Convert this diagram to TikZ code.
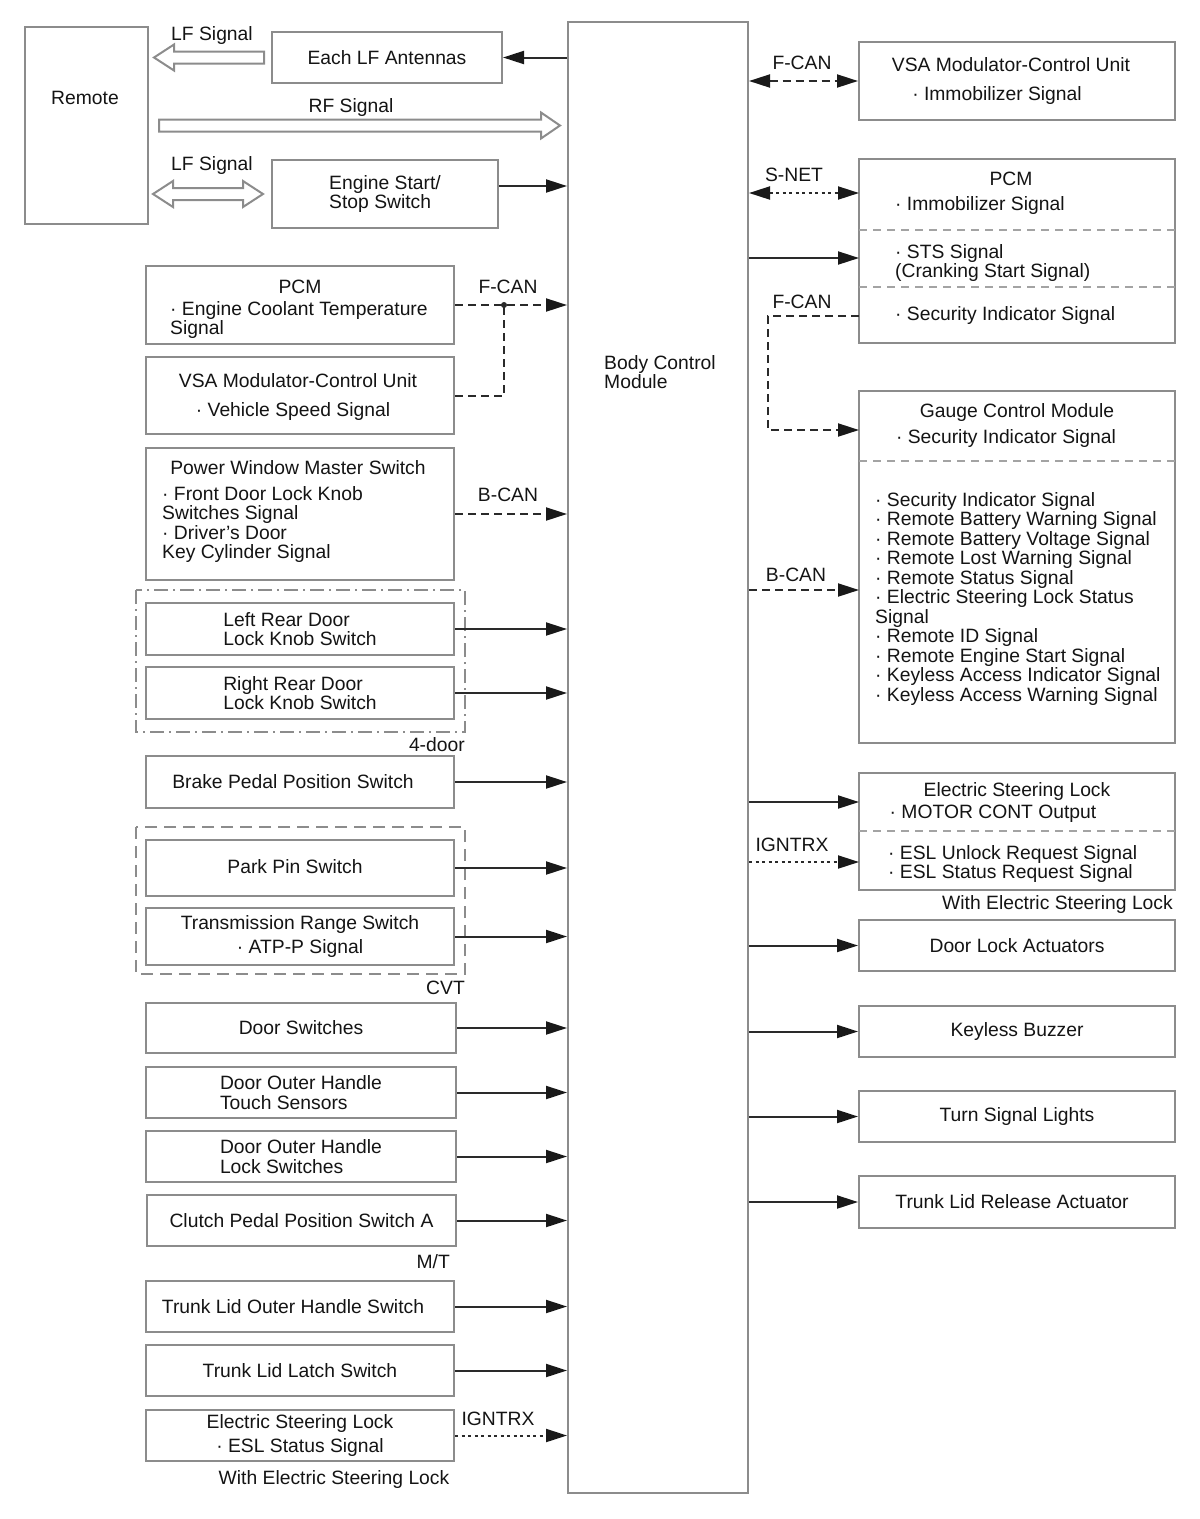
\documentclass[tikz,border=0pt]{standalone}
\usepackage{fontspec}
\setmainfont{Liberation Sans}
\usetikzlibrary{arrows.meta}

\definecolor{cadre}{HTML}{8C8C8C}
\definecolor{trait}{HTML}{2A2A2A}
\definecolor{texte}{HTML}{141414}
\newcommand{\police}{\fontsize{19.3}{19.5}\selectfont}

\tikzset{
  boite/.style={draw=cadre, line width=2pt, fill=white, inner sep=0pt, font=\police, text=texte, align=center},
  gauche/.style={boite, minimum width=308},
  droite/.style={boite, minimum width=316},
  txt/.style={inner sep=0pt, font=\police, text=texte, text height=14pt, text depth=0pt},
  bloc/.style={inner sep=0pt, font=\police, text=texte, align=left, anchor=north west},
  fleche/.style={draw=trait, line width=2pt, ->},
  can/.style={fleche, dash pattern=on 8pt off 5pt},
  ign/.style={fleche, dash pattern=on 3pt off 3.5pt},
  sep/.style={draw=cadre!80, line width=2pt, dash pattern=on 8pt off 6pt},
  creux/.style={draw=cadre, line width=2pt, fill=white, line join=miter}
}

\begin{document}
\begin{tikzpicture}[x=1pt, y=-1pt, >={Triangle[length=21pt,width=13pt,color=black!90]}]
% on fixe la taille de la page
\useasboundingbox (0,0) rectangle (1200,1519);

% télécommande, antennes et bouton de démarrage
\node[boite, minimum width=123, minimum height=197] (remote) at (86.5,125.5) {};
\node[txt] (remoteT) at (85,97) {Remote};
\node[boite, minimum width=230, minimum height=51] (lfant) at (387,57.5) {Each LF Antennas};
\node[boite, minimum width=226, minimum height=68, align=left] (ess) at (385,194) {Engine Start/\\Stop Switch};

% les flèches creuses (signaux radio)
\draw[creux] ([xshift=-7]lfant.west) ++(0,-6) -- ++(-90,0) -- ++(0,-7) -- ++(-20,13) -- ++(20,13) -- ++(0,-7) -- ++(90,0) -- cycle;
\draw[creux] ([xshift=10]remote.east) ++(0,-6) -- ++(382,0) -- ++(0,-7) -- ++(19,13) -- ++(-19,13) -- ++(0,-7) -- ++(-382,0) -- cycle;
\draw[creux] ([xshift=-8]ess.west) -- ++(-20,-13) -- ++(0,7) -- ++(-70,0) -- ++(0,-7) -- ++(-20,13) -- ++(20,13) -- ++(0,-7) -- ++(70,0) -- ++(0,7) -- cycle;
\node[txt] (lfsigA) at (212,33) {LF Signal};
\node[txt] (rfsig) at (351,105) {RF Signal};
\node[txt] (lfsigB) at (212,163) {LF Signal};

% le module central
\node[boite, minimum width=180, minimum height=1471] (bcm) at (658,757.5) {};
\node[bloc, anchor=center] (bcmT) at (660,372) {Body Control\\Module};

\draw[fleche] (bcm.west |- lfant.east) -- (lfant.east);
\draw[fleche] ([yshift=8]ess.east) -- ([yshift=8]ess.east -| bcm.west);

% entrées à gauche
\node[gauche, minimum height=78] (pcmIn) at (300,305) {};
\node[txt] at (300,286) {PCM};
\node[bloc] at (170,301) {· Engine Coolant Temperature\\Signal};
\node[gauche, minimum height=77] (vsaIn) at (300,395.5) {};
\node[txt] at (298,380) {VSA Modulator-Control Unit};
\node[txt] at (293,409) {· Vehicle Speed Signal};
\coordinate (jonc) at (504,305);
\draw[can] (pcmIn.east) -- (pcmIn.east -| bcm.west);
\draw[can, -] (vsaIn.east) -| (jonc);
\fill[trait] (jonc) circle (3);
\node[txt] (fcanL) at (508,286) {F-CAN};

\node[gauche, minimum height=132] (pwms) at (300,514) {};
\node[txt] at (298,467) {Power Window Master Switch};
\node[bloc] at (162,486) {· Front Door Lock Knob\\Switches Signal\\· Driver's Door\\Key Cylinder Signal};
\draw[can] (pwms.east) -- (pwms.east -| bcm.west);
\node[txt] (bcanL) at (508,494) {B-CAN};

% version 4 portes
\draw[cadre, line width=2pt, dash pattern=on 14pt off 5pt on 2pt off 5pt] (136,590) rectangle (465,732);
\node[txt, anchor=east] (quatre) at (465,744) {4-door};
\node[gauche, minimum height=52, align=left] (lrd) at (300,629) {Left Rear Door\\Lock Knob Switch};
\node[gauche, minimum height=52, align=left] (rrd) at (300,693) {Right Rear Door\\Lock Knob Switch};
\draw[fleche] (lrd.east) -- (lrd.east -| bcm.west);
\draw[fleche] (rrd.east) -- (rrd.east -| bcm.west);

\node[gauche, minimum height=52] (brake) at (300,782) {};
\node[txt] at (293,781) {Brake Pedal Position Switch};
\draw[fleche] (brake.east) -- (brake.east -| bcm.west);

% boîte CVT
\draw[cadre, line width=2pt, dash pattern=on 12pt off 7pt] (136,827) rectangle (465,974);
\node[txt, anchor=east] (cvt) at (465,987) {CVT};
\node[gauche, minimum height=56] (park) at (300,868) {};
\node[txt] at (295,866) {Park Pin Switch};
\node[gauche, minimum height=57] (trs) at (300,936.5) {Transmission Range Switch\\[4.5pt]· ATP-P Signal};
\draw[fleche] (park.east) -- (park.east -| bcm.west);
\draw[fleche] (trs.east) -- (trs.east -| bcm.west);

\node[boite, minimum width=310, minimum height=50] (doorsw) at (301,1028) {Door Switches};
\node[boite, minimum width=310, minimum height=51, align=left] (touch) at (301,1092.5) {Door Outer Handle\\Touch Sensors};
\node[boite, minimum width=310, minimum height=51, align=left] (lockhdl) at (301,1156.5) {Door Outer Handle\\Lock Switches};
\node[boite, minimum width=309, minimum height=51] (clutch) at (301.5,1220.5) {Clutch Pedal Position Switch A};
\node[txt, anchor=east] (mt) at (450,1261) {M/T};
\draw[fleche] (doorsw.east) -- (doorsw.east -| bcm.west);
\draw[fleche] (touch.east) -- (touch.east -| bcm.west);
\draw[fleche] (lockhdl.east) -- (lockhdl.east -| bcm.west);
\draw[fleche] (clutch.east) -- (clutch.east -| bcm.west);

\node[gauche, minimum height=51] (trunkout) at (300,1306.5) {};
\node[txt] at (293,1306) {Trunk Lid Outer Handle Switch};
\node[gauche, minimum height=51] (latch) at (300,1370.5) {Trunk Lid Latch Switch};
\node[gauche, minimum height=51] (eslIn) at (300,1435.5) {Electric Steering Lock\\[4.5pt]· ESL Status Signal};
\node[txt] (withA) at (334,1477) {With Electric Steering Lock};
\draw[fleche] (trunkout.east) -- (trunkout.east -| bcm.west);
\draw[fleche] (latch.east) -- (latch.east -| bcm.west);
\draw[ign] (eslIn.east) -- (eslIn.east -| bcm.west);
\node[txt] (ignL) at (498,1418) {IGNTRX};

% sorties à droite
\node[droite, minimum height=78] (vsaOut) at (1017,81) {};
\node[txt] at (1011,64) {VSA Modulator-Control Unit};
\node[txt] at (997,93) {· Immobilizer Signal};
\draw[can, <->] (bcm.east |- vsaOut.west) -- (vsaOut.west);
\node[txt] (fcanR) at (802,62) {F-CAN};

\node[droite, minimum height=184] (pcmOut) at (1017,251) {};
\node[txt] at (1011,178) {PCM};
\node[txt, anchor=west] at (895,203) {· Immobilizer Signal};
\draw[sep] (859,230) -- (1175,230);
\node[bloc] at (895,244) {· STS Signal\\(Cranking Start Signal)};
\draw[sep] (859,287) -- (1175,287);
\node[txt, anchor=west] at (895,313) {· Security Indicator Signal};
\coordinate (pSnet) at (859,193);
\coordinate (pSts) at (859,258);
\coordinate (pFcan) at (859,316);
\draw[ign, <->] (bcm.east |- pSnet) -- (pSnet);
\node[txt] (snet) at (794,174) {S-NET};
\draw[fleche] (bcm.east |- pSts) -- (pSts);

\node[droite, minimum height=352] (gauge) at (1017,567) {};
\node[txt] at (1017,410) {Gauge Control Module};
\node[txt] at (1006,436) {· Security Indicator Signal};
\draw[sep] (859,461) -- (1175,461);
\node[bloc] at (875,492) {· Security Indicator Signal\\· Remote Battery Warning Signal\\· Remote Battery Voltage Signal\\· Remote Lost Warning Signal\\· Remote Status Signal\\· Electric Steering Lock Status\\Signal\\· Remote ID Signal\\· Remote Engine Start Signal\\· Keyless Access Indicator Signal\\· Keyless Access Warning Signal};
\coordinate (gFcan) at (859,430);
\coordinate (gBcan) at (859,590);
\draw[can] (pFcan) -- ++(-91,0) |- (gFcan);
\node[txt] (fcanR2) at (802,301) {F-CAN};
\draw[can] (bcm.east |- gBcan) -- (gBcan);
\node[txt] (bcanR) at (796,574) {B-CAN};

\node[droite, minimum height=117] (eslOut) at (1017,831.5) {};
\node[txt] at (1017,789) {Electric Steering Lock};
\node[txt] at (993,811) {· MOTOR CONT Output};
\draw[sep] (859,831) -- (1175,831);
\node[bloc] at (888,845) {· ESL Unlock Request Signal\\· ESL Status Request Signal};
\node[txt, anchor=east] (withB) at (1173,902) {With Electric Steering Lock};
\coordinate (eMot) at (859,802);
\coordinate (eIgn) at (859,862);
\draw[fleche] (bcm.east |- eMot) -- (eMot);
\draw[ign] (bcm.east |- eIgn) -- (eIgn);
\node[txt] (ignR) at (792,844) {IGNTRX};

\node[droite, minimum height=51] (doorlock) at (1017,945.5) {Door Lock Actuators};
\node[droite, minimum height=51] (buzzer) at (1017,1031.5) {Keyless Buzzer};
\node[droite, minimum height=51] (turn) at (1017,1116.5) {Turn Signal Lights};
\node[droite, minimum height=52] (trunkrel) at (1017,1202) {};
\node[txt] at (1012,1201) {Trunk Lid Release Actuator};
\draw[fleche] (bcm.east |- doorlock.west) -- (doorlock.west);
\draw[fleche] (bcm.east |- buzzer.west) -- (buzzer.west);
\draw[fleche] (bcm.east |- turn.west) -- (turn.west);
\draw[fleche] (bcm.east |- trunkrel.west) -- (trunkrel.west);
\end{tikzpicture}
\end{document}
